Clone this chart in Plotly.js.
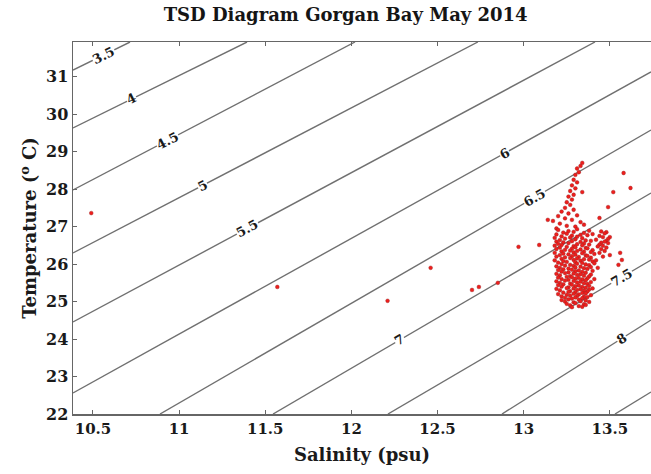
<!DOCTYPE html>
<html>
<head>
<meta charset="utf-8">
<script src="https://cdn.plot.ly/plotly-3.0.1.min.js"></script>
<style>html,body{margin:0;padding:0;background:#fff}#chart{width:651px;height:474px}</style>
</head>
<body>
<div id="chart"></div>
<script>
// ---- Data ----
const xTickVals = [10.5, 11, 11.5, 12, 12.5, 13, 13.5];
const xTickText = ['10.5', '11', '11.5', '12', '12.5', '13', '13.5'];
const yTickVals = [22, 23, 24, 25, 26, 27, 28, 29, 30, 31];

// Density (sigma) isolines: level, start point and end point (salinity psu, temperature °C)
const sigmaLevels = [3.5, 4, 4.5, 5, 5.5, 6, 6.5, 7, 7.5, 8, 8.5];
const isoStartS = [10.384, 10.384, 10.384, 10.384, 10.384, 10.384, 10.889, 11.545, 12.212, 12.874, 13.530];
const isoStartT = [31.178, 29.631, 27.977, 26.296, 24.455, 22.560, 22.0, 22.0, 22.0, 22.0, 22.0];
const isoEndS   = [10.715, 11.394, 12.021, 12.734, 13.414, 13.739, 13.739, 13.739, 13.739, 13.739, 13.739];
const isoEndT   = [31.925, 31.925, 31.925, 31.925, 31.925, 31.125, 29.577, 27.896, 26.109, 24.508, 22.587];
// salinity where each isoline carries its label (null = unlabelled)
const isoLabelS = [10.56, 10.726, 10.935, 11.138, 11.394, 12.891, 13.065, 12.282, 13.57, 13.57, null];

// Stations (salinity psu, temperature °C)
const salinity = [
  10.49, 11.57, 12.21, 12.46, 12.70, 12.74, 12.85, 12.97, 13.09,
  13.58, 13.62, 13.52, 13.49, 13.44, 13.50, 13.56, 13.57, 13.55,
  13.34, 13.33, 13.31, 13.32, 13.30, 13.29, 13.31, 13.28, 13.30, 13.27,
  13.29, 13.26, 13.28, 13.25, 13.27, 13.24, 13.29, 13.22, 13.26, 13.31,
  13.20, 13.24, 13.28, 13.17, 13.33, 13.21, 13.25, 13.30, 13.35, 13.14,
  13.19, 13.34,
  13.20, 13.26, 13.31, 13.38,
  13.23, 13.29, 13.35, 13.45, 13.48,
  13.19, 13.25, 13.33, 13.40, 13.47,
  13.22, 13.28, 13.31, 13.37, 13.44, 13.50,
  13.18, 13.24, 13.27, 13.34, 13.46, 13.49,
  13.21, 13.30, 13.36, 13.42, 13.48,
  13.19, 13.23, 13.28, 13.33, 13.39, 13.45, 13.47,
  13.20, 13.26, 13.31, 13.35, 13.44, 13.49,
  13.18, 13.22, 13.29, 13.34, 13.38, 13.46,
  13.21, 13.25, 13.30, 13.36, 13.43, 13.48,
  13.19, 13.24, 13.28, 13.33, 13.37, 13.45,
  13.22, 13.27, 13.31, 13.35, 13.40, 13.47,
  13.18, 13.23, 13.29, 13.34, 13.39, 13.44,
  13.21, 13.26, 13.30, 13.36, 13.41,
  13.19, 13.24, 13.28, 13.32, 13.37, 13.46,
  13.22, 13.27, 13.31, 13.35, 13.39,
  13.18, 13.23, 13.29, 13.33, 13.38, 13.42,
  13.20, 13.25, 13.30, 13.34, 13.40,
  13.22, 13.27, 13.31, 13.36, 13.41,
  13.19, 13.24, 13.29, 13.33, 13.38,
  13.21, 13.26, 13.30, 13.35, 13.39, 13.43,
  13.20, 13.23, 13.28, 13.32, 13.37,
  13.22, 13.26, 13.30, 13.34, 13.40,
  13.19, 13.24, 13.29, 13.33, 13.36,
  13.21, 13.27, 13.31, 13.35, 13.39,
  13.20, 13.25, 13.28, 13.32, 13.38,
  13.22, 13.26, 13.30, 13.34, 13.37, 13.41,
  13.19, 13.24, 13.29, 13.33, 13.36,
  13.21, 13.27, 13.31, 13.35, 13.39,
  13.20, 13.23, 13.28, 13.32, 13.37,
  13.22, 13.26, 13.30, 13.34, 13.38,
  13.19, 13.25, 13.29, 13.33, 13.36, 13.40,
  13.21, 13.27, 13.31, 13.35, 13.38,
  13.23, 13.26, 13.30, 13.34, 13.37,
  13.20, 13.25, 13.29, 13.32, 13.36,
  13.22, 13.27, 13.31, 13.35, 13.39,
  13.24, 13.28, 13.30, 13.34, 13.37,
  13.22, 13.26, 13.32, 13.36,
  13.24, 13.29, 13.33, 13.38,
  13.25, 13.30, 13.35,
  13.27, 13.32, 13.36,
  13.28, 13.34
];
const temperature = [
  27.36, 25.39, 25.02, 25.90, 25.31, 25.39, 25.50, 26.46, 26.51,
  28.43, 28.03, 27.92, 27.52, 27.23, 26.24, 26.30, 26.11, 25.98,
  28.70, 28.62, 28.55, 28.45, 28.38, 28.25, 28.18, 28.10, 28.02, 27.95,
  27.85, 27.80, 27.72, 27.65, 27.58, 27.50, 27.45, 27.40, 27.35, 27.30,
  27.28, 27.22, 27.18, 27.15, 27.12, 27.08, 27.02, 27.00, 27.05, 27.18,
  26.95, 27.92,
  26.91, 26.88, 26.93, 26.89,
  26.84, 26.86, 26.83, 26.87, 26.85,
  26.79, 26.81, 26.78, 26.80, 26.82,
  26.74, 26.76, 26.73, 26.77, 26.75, 26.72,
  26.70, 26.68, 26.71, 26.69, 26.72, 26.67,
  26.64, 26.66, 26.63, 26.65, 26.62,
  26.60, 26.58, 26.61, 26.59, 26.62, 26.57, 26.60,
  26.54, 26.56, 26.53, 26.55, 26.52, 26.56,
  26.49, 26.51, 26.48, 26.50, 26.52, 26.49,
  26.44, 26.46, 26.45, 26.43, 26.47, 26.44,
  26.40, 26.38, 26.41, 26.39, 26.42, 26.40,
  26.34, 26.36, 26.35, 26.33, 26.37, 26.35,
  26.30, 26.28, 26.31, 26.29, 26.32, 26.30,
  26.24, 26.26, 26.25, 26.23, 26.27,
  26.20, 26.18, 26.21, 26.19, 26.22, 26.20,
  26.14, 26.16, 26.15, 26.13, 26.17,
  26.10, 26.08, 26.11, 26.09, 26.12, 26.10,
  26.04, 26.06, 26.05, 26.03, 26.07,
  26.00, 25.98, 26.01, 25.99, 26.02,
  25.94, 25.96, 25.95, 25.93, 25.97,
  25.90, 25.88, 25.91, 25.89, 25.92, 25.90,
  25.84, 25.86, 25.85, 25.83, 25.87,
  25.80, 25.78, 25.81, 25.79, 25.82,
  25.74, 25.76, 25.75, 25.73, 25.77,
  25.70, 25.68, 25.71, 25.69, 25.72,
  25.64, 25.66, 25.65, 25.63, 25.67,
  25.60, 25.58, 25.61, 25.59, 25.62, 25.60,
  25.54, 25.56, 25.55, 25.53, 25.57,
  25.50, 25.48, 25.51, 25.49, 25.52,
  25.44, 25.46, 25.45, 25.43, 25.47,
  25.40, 25.38, 25.41, 25.39, 25.42,
  25.34, 25.36, 25.35, 25.33, 25.37, 25.35,
  25.30, 25.28, 25.31, 25.29, 25.32,
  25.24, 25.26, 25.25, 25.23, 25.27,
  25.20, 25.18, 25.21, 25.19, 25.22,
  25.14, 25.16, 25.15, 25.13, 25.17,
  25.10, 25.08, 25.11, 25.09, 25.12,
  25.04, 25.06, 25.05, 25.03,
  25.00, 24.98, 25.01, 24.99,
  24.94, 24.96, 24.93,
  24.90, 24.88, 24.91,
  24.85, 24.86
];

// ---- Chart ----
const FONT = 'DejaVu Serif, Liberation Serif, serif';
const xRange = [10.384, 13.739];
const yRange = [22, 31.925];
const W = 651, H = 474, M = {l: 73, r: 0, t: 42, b: 60};
const pxPerS = (W - M.l - M.r) / (xRange[1] - xRange[0]);
const pxPerT = (H - M.t - M.b) / (yRange[1] - yRange[0]);

const traces = [];
const annotations = [];
sigmaLevels.forEach((lev, i) => {
  traces.push({
    type: 'scatter', mode: 'lines',
    x: [isoStartS[i], isoEndS[i]], y: [isoStartT[i], isoEndT[i]],
    line: {color: '#707070', width: 1.4},
    hoverinfo: 'skip', showlegend: false
  });
  if (isoLabelS[i] !== null) {
    const dS = isoEndS[i] - isoStartS[i], dT = isoEndT[i] - isoStartT[i];
    const t = isoStartT[i] + (isoLabelS[i] - isoStartS[i]) / dS * dT;
    const ang = -Math.atan((dT * pxPerT) / (dS * pxPerS)) * 180 / Math.PI;
    annotations.push({
      x: isoLabelS[i], y: t, xref: 'x', yref: 'y',
      text: String(lev), showarrow: false, textangle: ang,
      font: {family: FONT, size: 13, color: '#1a1a1a', weight: 'bold'},
      bgcolor: 'rgba(255,255,255,1)', borderpad: 0
    });
  }
});
traces.push({
  type: 'scatter', mode: 'markers',
  x: salinity, y: temperature,
  marker: {color: 'rgb(238,30,28)', size: 3.8, line: {width: 0.4, color: 'rgb(150,30,30)'}},
  showlegend: false
});

const layout = {
  width: W, height: H, margin: M,
  paper_bgcolor: '#fff', plot_bgcolor: '#fff',
  showlegend: false,
  title: {
    text: 'TSD Diagram Gorgan Bay May 2014',
    font: {family: FONT, size: 18, color: '#151515', weight: 'bold'},
    x: 0.531, xref: 'container', xanchor: 'center',
    y: 1 - 15 / H, yref: 'container', yanchor: 'middle'
  },
  xaxis: {
    range: xRange, tickmode: 'array', tickvals: xTickVals, ticktext: xTickText,
    ticks: 'inside', ticklen: 4, tickcolor: '#666', tickwidth: 1,
    showline: true, linecolor: '#666', linewidth: 1.5, mirror: 'ticks',
    showgrid: false, zeroline: false,
    tickfont: {family: FONT, size: 15, color: '#1a1a1a', weight: 'bold'},
    title: {text: 'Salinity (psu)', standoff: 12,
      font: {family: FONT, size: 18, color: '#1a1a1a', weight: 'bold'}}
  },
  yaxis: {
    range: yRange, tickmode: 'array', tickvals: yTickVals,
    ticks: 'inside', ticklen: 4, tickcolor: '#666', tickwidth: 1,
    showline: true, linecolor: '#666', linewidth: 1.5,
    showgrid: false, zeroline: false,
    tickfont: {family: FONT, size: 16, color: '#1a1a1a', weight: 'bold'},
    title: {text: 'Temperature (<sup>o</sup> C)', standoff: 4,
      font: {family: FONT, size: 18, color: '#1a1a1a', weight: 'bold'}}
  },
  annotations: annotations
};

Plotly.newPlot('chart', traces, layout, {staticPlot: true, displayModeBar: false});
</script>
</body>
</html>
